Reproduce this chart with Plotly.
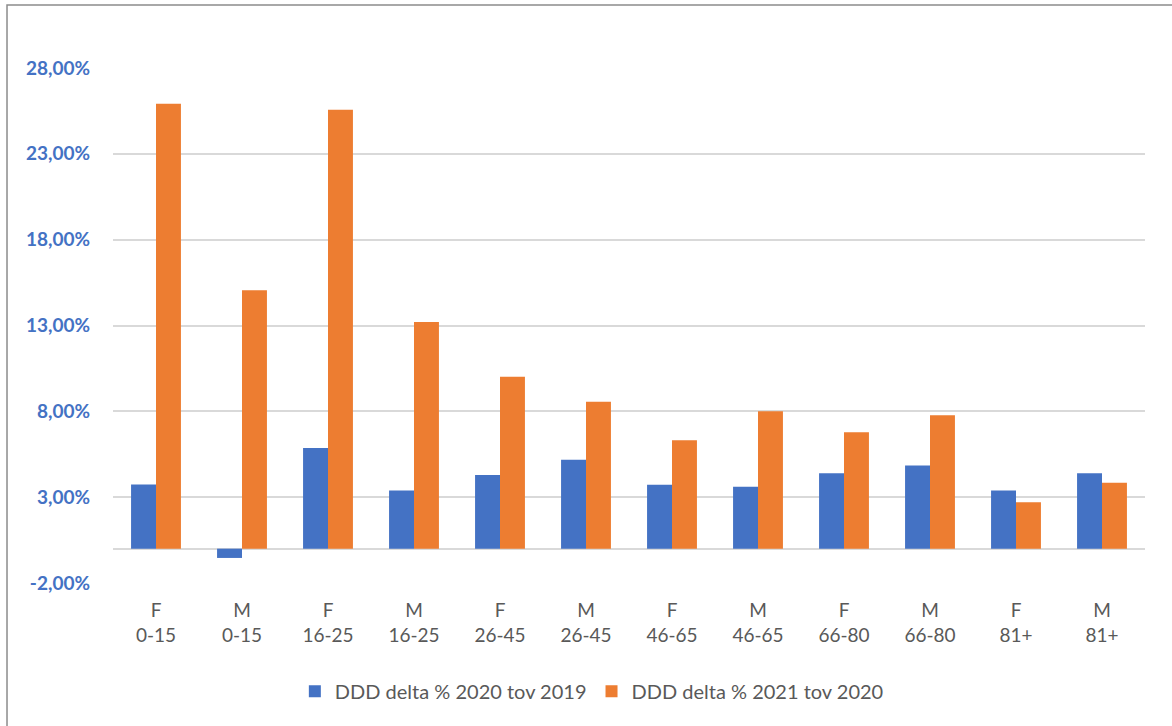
import plotly.graph_objects as go

# Age/sex groups (two-line category labels)
sexes = ["F", "M", "F", "M", "F", "M", "F", "M", "F", "M", "F", "M"]
ages = ["0-15", "0-15", "16-25", "16-25", "26-45", "26-45",
        "46-65", "46-65", "66-80", "66-80", "81+", "81+"]
categories = [f"{s}<br>{a}" for s, a in zip(sexes, ages)]

# DDD change in percent
delta_2020_vs_2019 = [3.74, -0.54, 5.86, 3.39, 4.29, 5.18, 3.72, 3.60, 4.39, 4.85, 3.39, 4.40]
delta_2021_vs_2020 = [25.92, 15.06, 25.57, 13.20, 10.02, 8.56, 6.31, 8.00, 6.78, 7.77, 2.71, 3.84]

series_names = ["DDD delta % 2020 tov 2019", "DDD delta % 2021 tov 2020"]
tick_values = [-2, 3, 8, 13, 18, 23, 28]
tick_labels = [f"{v:.2f}%".replace(".", ",") for v in tick_values]

BLUE = "#4472C4"
ORANGE = "#ED7D31"
GREY_TEXT = "#595959"
GRID = "#D9D9D9"

fig = go.Figure()
fig.add_trace(go.Bar(x=categories, y=delta_2020_vs_2019, name=series_names[0],
                     marker=dict(color=BLUE, line=dict(width=0))))
fig.add_trace(go.Bar(x=categories, y=delta_2021_vs_2020, name=series_names[1],
                     marker=dict(color=ORANGE, line=dict(width=0))))

fig.update_layout(
    width=1172, height=726,
    margin=dict(l=113, r=27, t=68, b=143),
    paper_bgcolor="white", plot_bgcolor="white",
    barmode="group", bargap=0.42, bargroupgap=0,
    font=dict(family="Lato, Open Sans, sans-serif", size=19, color=GREY_TEXT),
    showlegend=True,
    legend=dict(orientation="h", x=0.464, xanchor="center", y=-0.21, yanchor="middle",
                font=dict(size=20, color=GREY_TEXT), itemsizing="constant",
                traceorder="normal", itemwidth=30),
    xaxis=dict(showgrid=False, showline=False, ticks="", zeroline=False,
               ticklabelstandoff=14,
               tickfont=dict(size=19, color=GREY_TEXT)),
    yaxis=dict(range=[-2, 28], tickvals=tick_values, ticktext=tick_labels,
               showgrid=True, gridcolor=GRID, gridwidth=1.5,
               zeroline=True, zerolinecolor=GRID, zerolinewidth=1.5,
               showline=False, ticks="", ticklabelstandoff=22,
               tickfont=dict(size=19, color=BLUE, weight="bold")),
)

# Thin grey frame around the chart area
fig.add_shape(type="rect", xref="paper", yref="paper",
              x0=-0.1027, x1=1.2, y0=-0.4, y1=1.1223,
              line=dict(color="#8C8C8C", width=1.5), fillcolor="rgba(0,0,0,0)",
              layer="below")

fig.write_html("out.html")
